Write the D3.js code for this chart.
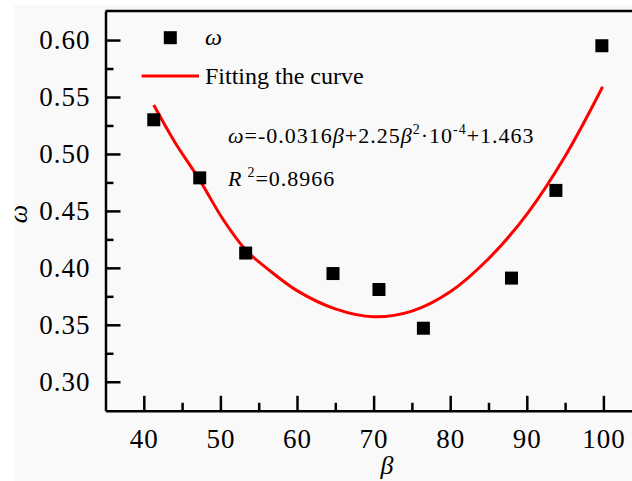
<!DOCTYPE html>
<html>
<head>
<meta charset="utf-8">
<script src="https://cdn.jsdelivr.net/npm/d3@7"></script>
<style>
  html, body { margin: 0; padding: 0; background: #ffffff; }
  svg { display: block; }
  text { font-family: "Liberation Serif", "Times New Roman", serif; fill: #000; }
</style>
</head>
<body>
<svg id="chart" width="632" height="481"></svg>
<script>
// Measured points: beta vs omega
const beta  = [41.3, 47.3, 53.3, 64.7, 70.7, 76.5, 88.0, 93.8, 99.8];
const omega = [0.530, 0.479, 0.413, 0.395, 0.381, 0.347, 0.391, 0.468, 0.595];

// Fitted curve, sampled
const fitBeta  = [41.3, 44, 47.3, 50.4, 53.4, 56, 60, 65, 70, 75, 80, 85, 90, 95, 99.9];
const fitOmega = [0.543, 0.511, 0.477, 0.442, 0.415, 0.400, 0.380, 0.364, 0.357, 0.362, 0.379, 0.408, 0.447, 0.498, 0.559];

// Axis ticks
const xTicks = [40, 50, 60, 70, 80, 90, 100];
const xMinor = [45, 55, 65, 75, 85, 95];
const yTicks = [0.30, 0.35, 0.40, 0.45, 0.50, 0.55, 0.60];
const yMinor = [0.325, 0.375, 0.425, 0.475, 0.525, 0.575];

const svg = d3.select("#chart");

// page background
svg.append("rect").attr("x", 14).attr("y", 5).attr("width", 632).attr("height", 481).attr("fill", "#f9f9f9");

const x = d3.scaleLinear().domain([35, 105]).range([105.5, 641.7]);
const y = d3.scaleLinear().domain([0.2745, 0.6255]).range([410.8, 11]);

// top frame line
svg.append("line")
  .attr("x1", x(35)).attr("x2", x(105))
  .attr("y1", y(0.6255)).attr("y2", y(0.6255))
  .attr("stroke", "#000").attr("stroke-width", 2.5);

function styleAxis(g) {
  g.select(".domain").attr("stroke", "#000").attr("stroke-width", 2.5);
  g.selectAll(".tick line").attr("stroke", "#000").attr("stroke-width", 2.5);
  g.selectAll(".tick text")
    .attr("font-family", "Liberation Serif")
    .attr("font-size", 27)
    .attr("letter-spacing", 1)
    .attr("fill", "#000");
}

// x axis
const gx = svg.append("g").attr("transform", `translate(0,${y(0.2745)})`)
  .call(d3.axisBottom(x).tickValues(xTicks).tickSizeInner(-15).tickSizeOuter(0).tickPadding(18).tickFormat(d3.format("d")));
styleAxis(gx);
const gxm = svg.append("g").attr("transform", `translate(0,${y(0.2745)})`)
  .call(d3.axisBottom(x).tickValues(xMinor).tickSizeInner(-8).tickSizeOuter(0).tickFormat(""));
styleAxis(gxm);
gxm.select(".domain").remove();

// y axis
const gy = svg.append("g").attr("transform", `translate(${x(35)},0)`)
  .call(d3.axisLeft(y).tickValues(yTicks).tickSizeInner(-15).tickSizeOuter(0).tickPadding(15).tickFormat(d3.format(".2f")));
styleAxis(gy);
const gym = svg.append("g").attr("transform", `translate(${x(35)},0)`)
  .call(d3.axisLeft(y).tickValues(yMinor).tickSizeInner(-8).tickSizeOuter(0).tickFormat(""));
styleAxis(gym);
gym.select(".domain").remove();

// axis titles
svg.append("text")
  .attr("transform", "translate(27,214) rotate(-90)")
  .attr("text-anchor", "middle")
  .attr("font-size", 26).attr("font-style", "italic")
  .text("ω");
svg.append("text")
  .attr("x", 387).attr("y", 474)
  .attr("text-anchor", "middle")
  .attr("font-size", 26).attr("font-style", "italic")
  .text("β");

// fitted curve
const line = d3.line()
  .x((d, i) => x(fitBeta[i]))
  .y(d => y(d))
  .curve(d3.curveCatmullRom.alpha(0.5));
svg.append("path")
  .datum(fitOmega)
  .attr("d", line)
  .attr("fill", "none")
  .attr("stroke", "#ff0000")
  .attr("stroke-width", 3);

// measured points
const sq = 13;
svg.append("g").selectAll("rect")
  .data(omega)
  .join("rect")
  .attr("x", (d, i) => x(beta[i]) - sq / 2)
  .attr("y", d => y(d) - sq / 2)
  .attr("width", sq).attr("height", sq)
  .attr("fill", "#000");

// legend
const lg = svg.append("g");
lg.append("rect").attr("x", 170.3 - sq / 2).attr("y", 37.7 - sq / 2).attr("width", sq).attr("height", sq).attr("fill", "#000");
lg.append("text").attr("x", 205).attr("y", 45).attr("font-size", 24).attr("font-style", "italic").text("ω");
lg.append("line").attr("x1", 141.7).attr("x2", 199).attr("y1", 76).attr("y2", 76).attr("stroke", "#ff0000").attr("stroke-width", 3);
lg.append("text").attr("x", 205).attr("y", 84).attr("font-size", 24).text("Fitting the curve");

// fitted equation
const eq = svg.append("text").attr("x", 228).attr("y", 143).attr("font-size", 22).attr("letter-spacing", 1);
eq.append("tspan").attr("font-style", "italic").text("ω");
eq.append("tspan").text("=-0.0316");
eq.append("tspan").attr("font-style", "italic").text("β");
eq.append("tspan").text("+2.25");
eq.append("tspan").attr("font-style", "italic").text("β");
eq.append("tspan").attr("font-size", 14).attr("dy", -9).text("2");
eq.append("tspan").attr("dy", 9).text("·10");
eq.append("tspan").attr("font-size", 14).attr("dy", -9).text("-4");
eq.append("tspan").attr("dy", 9).text("+1.463");

const r2 = svg.append("text").attr("x", 228).attr("y", 186).attr("font-size", 22).attr("letter-spacing", 1);
r2.append("tspan").attr("font-style", "italic").text("R");
r2.append("tspan").attr("font-size", 14).attr("dx", 5).attr("dy", -9).text("2");
r2.append("tspan").attr("dy", 9).text("=0.8966");
</script>
</body>
</html>
